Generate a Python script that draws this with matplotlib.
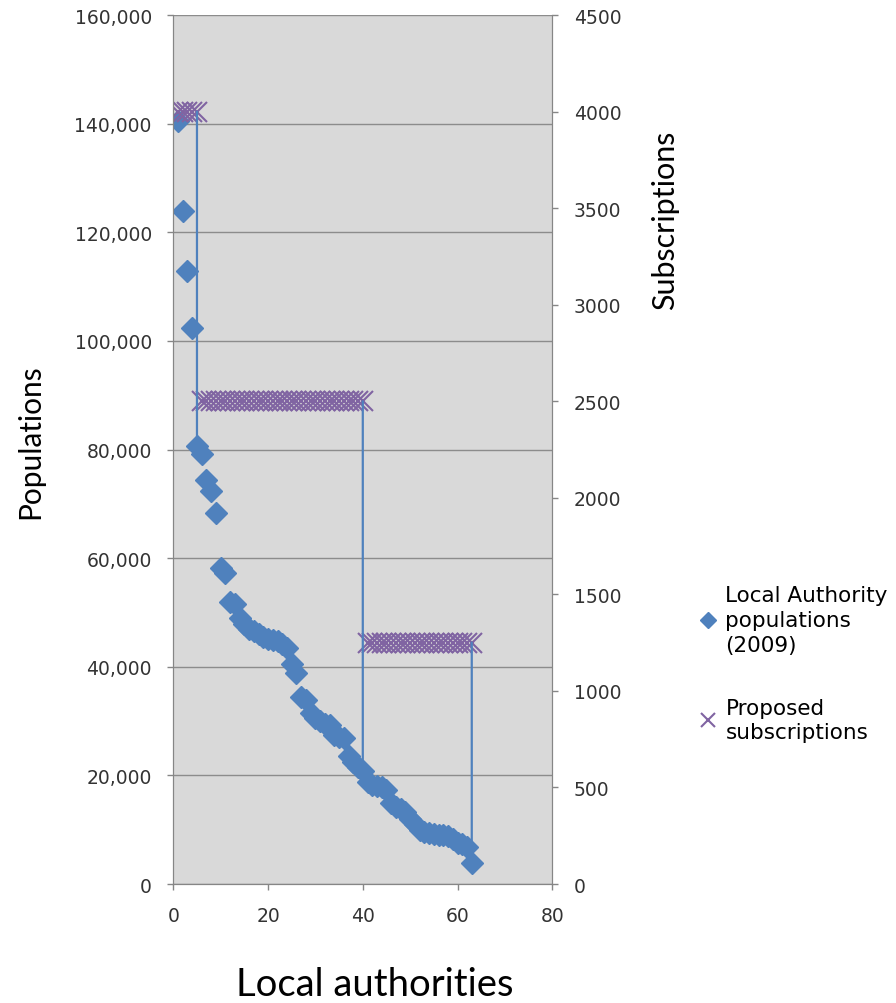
import matplotlib
matplotlib.use("Agg")
import matplotlib.pyplot as plt
from matplotlib.ticker import FuncFormatter, MultipleLocator

# local authority index
authority = list(range(1, 64))

# population of each local authority (2009)
populations = [140500, 124000, 112800, 102300, 80700, 79200, 74400, 72400, 68300, 58200,
               57300, 52000, 51500, 49000, 47800, 47000, 46500, 46000, 45500, 45200,
               45000, 44800, 44200, 43500, 40600, 38800, 34500, 33800, 31500, 30500,
               30000, 29500, 29200, 27500, 27000, 26800, 23500, 22500, 21500, 20800,
               18800, 18200, 18000, 17800, 17300, 15000, 14200, 13800, 13200, 12000,
               11000, 10000, 9600, 9400, 9200, 9100, 9000, 8800, 8200, 7600,
               7300, 6800, 3800]

# proposed subscriptions per authority
subscriptions = [4000, 4000, 4000, 4000, 4000,
                 2500, 2500, 2500, 2500, 2500, 2500, 2500, 2500, 2500, 2500,
                 2500, 2500, 2500, 2500, 2500, 2500, 2500, 2500, 2500, 2500,
                 2500, 2500, 2500, 2500, 2500, 2500, 2500, 2500, 2500, 2500,
                 2500, 2500, 2500, 2500, 2500,
                 1250, 1250, 1250, 1250, 1250, 1250, 1250, 1250, 1250, 1250,
                 1250, 1250, 1250, 1250, 1250, 1250, 1250, 1250, 1250, 1250,
                 1250, 1250, 1250]

# authorities where the subscription band ends (drop lines)
band_ends = [5, 40, 63]

blue = "#4F81BD"
purple = "#8064A2"
axis_grey = "#868686"

fig = plt.figure(figsize=(8.96, 10.04), dpi=100)
ax = fig.add_axes([0.1934, 0.1185, 0.423, 0.8655])
ax2 = ax.twinx()

ax.set_facecolor("#D9D9D9")
ax.set_xlim(0, 80)
ax.set_ylim(0, 160000)
ax2.set_ylim(0, 4500)
ax.xaxis.set_major_locator(MultipleLocator(20))
ax.yaxis.set_major_locator(MultipleLocator(20000))
ax2.yaxis.set_major_locator(MultipleLocator(500))
ax.yaxis.set_major_formatter(FuncFormatter(lambda v, p: f"{int(v):,}"))

ax.grid(axis="y", color="#8C8C8C", linewidth=1)
ax.set_axisbelow(True)

for a in (ax, ax2):
    for s in a.spines.values():
        s.set_color(axis_grey)
    a.spines["top"].set_visible(False)
    a.tick_params(colors=axis_grey, labelcolor="#333333", length=4.5, width=1,
                  labelsize=13.5, pad=11)

ax.plot(authority, populations, linestyle="none", marker="D", markersize=11.5,
        color=blue, label="Local Authority\npopulations\n(2009)")
ax2.plot(authority, subscriptions, linestyle="none", marker="x", markersize=15,
         markeredgewidth=1.5, color=purple, label="Proposed\nsubscriptions")

# drop lines from each subscription step down to the population point
for e in band_ends:
    i = authority.index(e)
    ax2.annotate("", xy=(e, populations[i]), xycoords=ax.transData,
                 xytext=(e, subscriptions[i]), textcoords=ax2.transData,
                 arrowprops=dict(arrowstyle="-", color=blue, lw=1.6,
                                 shrinkA=0, shrinkB=0))

ax.set_xlabel("Local authorities", fontsize=27.5, family="Lato")
ax.xaxis.set_label_coords(0.532, -0.094)
ax.set_ylabel("Populations", fontsize=21.5, family="Lato")
ax.yaxis.set_label_coords(-0.34, 0.51)
ax2.set_ylabel("Subscriptions", fontsize=22, family="Lato")
ax2.yaxis.set_label_coords(1.26, 0.765)

h1, l1 = ax.get_legend_handles_labels()
h2, l2 = ax2.get_legend_handles_labels()
leg = fig.legend(h1 + h2, l1 + l2, loc="upper left", bbox_to_anchor=(0.77, 0.425),
                 frameon=False, fontsize=15.5, handlelength=0.9, handletextpad=0.35,
                 labelspacing=2.0, markerscale=0.7, borderaxespad=0)
for t in leg.get_texts():
    t.set_linespacing(1.3)

fig.savefig("out.png", dpi=100)
